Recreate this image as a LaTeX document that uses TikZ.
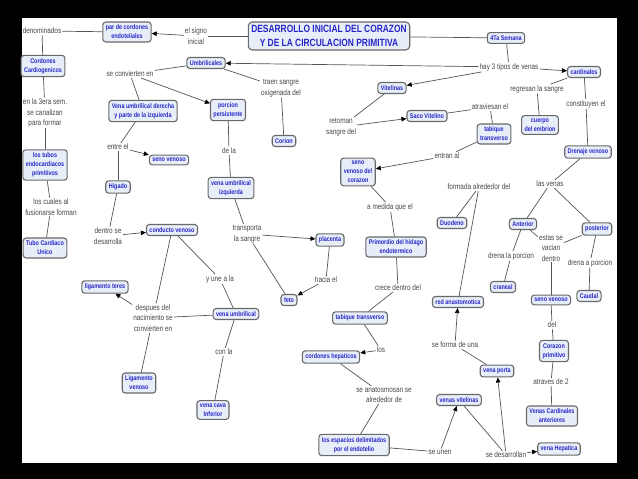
\documentclass[tikz,border=0pt]{standalone}
\usepackage{fontspec}
\setmainfont{Liberation Sans}[FakeStretch=0.8]
\usepackage{tikz}
\usetikzlibrary{arrows.meta, positioning}
\definecolor{cmapblue}{RGB}{38, 38, 200}
\definecolor{cmapfill}{RGB}{232, 238, 248}
\definecolor{cmapedge}{RGB}{105, 105, 105}
\definecolor{cmaplink}{RGB}{70, 70, 70}
\definecolor{cmapline}{RGB}{85, 85, 85}
\tikzset{
  cpt/.style={rectangle, rounded corners=3pt, draw=cmapedge, line width=1.1pt, fill=cmapfill, align=center, inner sep=3pt, text=cmapblue, font=\fontsize{6.8}{9}\selectfont\bfseries},
  titlebox/.style={rectangle, rounded corners=4pt, draw=cmapedge, line width=1.1pt, fill=cmapfill, align=center, inner sep=3pt, text=cmapblue, font=\fontsize{10.5}{14.5}\selectfont\bfseries},
  lnk/.style={align=center, inner sep=1pt, text=cmaplink, font=\fontsize{8}{10.5}\selectfont},
  con/.style={draw=cmapline, line width=0.7pt},
  arr/.style={draw=cmapline, line width=0.7pt, -{Triangle[length=5pt, width=4.5pt, color=black]}}
}

\begin{document}
\begin{tikzpicture}[x=1pt, y=-1pt]
    % frame
    \fill[black] (0,0) rectangle (638,479);
    \fill[white] (22,18) rectangle (617,463);
    \useasboundingbox (0,0) rectangle (638,479);

    % concepts
    \node[titlebox] (title) at (329,36) {DESARROLLO INICIAL DEL CORAZON\\Y DE LA CIRCULACION PRIMITIVA};
    \node[cpt] (par) at (127,32) {par de cordones\\endoteliales};
    \node[cpt] (cardio) at (43,66) {Cordones\\Cardiogenicos};
    \node[cpt] (tubos) at (45,165) {los tubos\\endocardiacos\\primitivos};
    \node[cpt] (unico) at (45,248) {Tubo Cardiaco\\Unico};
    \node[cpt] (umbri) at (206,63) {Umbrilicales};
    \node[cpt] (derecha) at (143,111) {Vena umbrilical derecha\\y parte de la izquierda};
    \node[cpt] (persist) at (228,110) {porcion\\persistente};
    \node[cpt] (corion) at (284,141) {Corion};
    \node[cpt] (senoA) at (169,160) {seno venoso};
    \node[cpt] (higado) at (118,187) {Higado};
    \node[cpt] (izq) at (231,188) {vena umbrilical\\izquierda};
    \node[cpt] (placenta) at (330,240) {placenta};
    \node[cpt] (feto) at (289,300) {feto};
    \node[cpt] (conducto) at (172,230) {conducto venoso};
    \node[cpt] (teres) at (105,287) {ligamento teres};
    \node[cpt] (ligven) at (139,383) {Ligamento\\venoso};
    \node[cpt] (umbvena) at (236,314) {vena umbrilical};
    \node[cpt] (cava) at (213,410) {vena cava\\Inferior};
    \node[cpt] (semana) at (506,38) {4Ta Semana};
    \node[cpt] (vitelinas) at (392,88) {Vitelinas};
    \node[cpt] (saco) at (427,116) {Saco Vitelino};
    \node[cpt] (tabA) at (494,134) {tabique\\transverso};
    \node[cpt] (senocor) at (358,172) {seno\\venoso del\\corazon};
    \node[cpt] (cardinales) at (584,72) {cardinales};
    \node[cpt] (cuerpo) at (540,125) {cuerpo\\del embrion};
    \node[cpt] (drenaje) at (588,152) {Drenaje venoso};
    \node[cpt] (duodeno) at (452,223) {Duodeno};
    \node[cpt] (primordio) at (396,247) {Primordio del hidago\\endotermico};
    \node[cpt] (tabB) at (360,318) {tabique transverso};
    \node[cpt] (hepcord) at (331,357) {cordones hepaticos};
    \node[cpt] (espacios) at (354,445) {los espacios delimitados\\por el endotelio};
    \node[cpt] (redanas) at (458,302) {red anastomotica};
    \node[cpt] (porta) at (497,371) {vena porta};
    \node[cpt] (vitvenas) at (459,400) {venas vitelinas};
    \node[cpt] (hepatica) at (559,449) {vena Hepatica};
    \node[cpt] (anterior) at (523,224) {Anterior};
    \node[cpt] (posterior) at (597,229) {posterior};
    \node[cpt] (craneal) at (503,287) {craneal};
    \node[cpt] (caudal) at (589,296) {Caudal};
    \node[cpt] (senoB) at (551,300) {seno venoso};
    \node[cpt] (corazon) at (554,351) {Corazon\\primitivo};
    \node[cpt] (cardant) at (552,416) {Venas Cardinales\\anteriores};

    % linking phrases
    \node[lnk] (signo) at (196,36) {el signo\\inicial};
    \node[lnk] (denom) at (42,31) {denominados};
    \node[lnk] (sem3) at (45,113) {en la 3era sem.\\se canalizan\\para formar};
    \node[lnk] (cuales) at (51,207) {los cuales al\\fusionarse forman};
    \node[lnk] (convierten) at (130,74) {se convierten en};
    \node[lnk] (traen) at (281,88) {traen sangre\\oxigenada del};
    \node[lnk] (entre) at (118,147) {entre el};
    \node[lnk] (dela) at (229,151) {de la};
    \node[lnk] (transporta) at (247,234) {transporta\\la sangre};
    \node[lnk] (hacia) at (326,280) {hacia el};
    \node[lnk] (dentro) at (108,236) {dentro se\\desarrolla};
    \node[lnk] (une) at (220,279) {y une a la};
    \node[lnk] (despues) at (153,318) {despues del\\nacimiento se\\convierten en};
    \node[lnk] (conla) at (224,352) {con la};
    \node[lnk] (tipos) at (509,67) {hay 3 tipos de venas};
    \node[lnk] (retoman) at (341,127) {retoman\\sangre del};
    \node[lnk] (atraviesan) at (490,107) {atraviesan el};
    \node[lnk] (entran) at (447,156) {entran al};
    \node[lnk] (medida) at (390,207) {a medida que el};
    \node[lnk] (crece) at (398,288) {crece dentro del};
    \node[lnk] (los) at (381,350) {los};
    \node[lnk] (anatos) at (384,395) {se anatosmosan se\\alrededor de};
    \node[lnk] (regresan) at (537,89) {regresan la sangre};
    \node[lnk] (constituyen) at (586,104) {constituyen el};
    \node[lnk] (lasvenas) at (550,184) {las venas};
    \node[lnk] (formada) at (479,187) {formada alrededor del};
    \node[lnk] (estas) at (551,248) {estas se\\vacian\\dentro};
    \node[lnk] (drenala) at (511,256) {drena la porcion};
    \node[lnk] (drenaa) at (590,263) {drena a porcion};
    \node[lnk] (del) at (552,325) {del};
    \node[lnk] (atraves) at (551,382) {atraves de 2};
    \node[lnk] (formauna) at (455,345) {se forma de una};
    \node[lnk] (unen) at (440,452) {se unen};
    \node[lnk] (desarrollan) at (506,455) {se desarrollan};

    % left column
    \draw[con] (title) -- (signo);
    \draw[arr] (signo) -- (par);
    \draw[con] (par) -- (denom);
    \draw[con] (denom) -- (cardio);
    \draw[con] (cardio) -- (sem3);
    \draw[con] (sem3) -- (tubos);
    \draw[con] (tubos) -- (cuales);
    \draw[con] (cuales) -- (unico);

    % umbilical veins
    \draw[con] (umbri) -- (convierten);
    \draw[arr] (convierten) -- (persist);
    \draw[con] (convierten) -- (derecha);
    \draw[con] (umbri) -- (traen);
    \draw[con] (traen) -- (corion);
    \draw[con] (derecha) -- (entre);
    \draw[arr] (entre) -- (senoA);
    \draw[con] (entre) -- (higado);
    \draw[con] (higado) -- (dentro);
    \draw[arr] (dentro) -- (conducto);
    \draw[con] (conducto) -- (une);
    \draw[con] (une) -- (umbvena);
    \draw[con] (conducto) -- (despues);
    \draw[arr] (despues) -- (teres);
    \draw[con] (umbvena) -- (despues);
    \draw[con] (despues) -- (ligven);
    \draw[con] (umbvena) -- (conla);
    \draw[con] (conla) -- (cava);
    \draw[con] (persist) -- (dela);
    \draw[con] (dela) -- (izq);
    \draw[con] (izq) -- (transporta);
    \draw[arr] (transporta) -- (placenta);
    \draw[con] (transporta) -- (feto);
    \draw[con] (placenta) -- (hacia);
    \draw[arr] (hacia) -- (feto);

    % vitelline veins
    \draw[con] (title) -- (semana);
    \draw[con] (semana) -- (tipos);
    \draw[arr] (tipos) -- (umbri);
    \draw[arr] (tipos) -- (vitelinas);
    \draw[arr] (tipos) -- (cardinales);
    \draw[con] (vitelinas) -- (retoman);
    \draw[arr] (retoman) -- (saco);
    \draw[con] (saco) -- (atraviesan);
    \draw[con] (atraviesan) -- (tabA);
    \draw[con] (tabA) -- (entran);
    \draw[arr] (entran) -- (senocor);
    \draw[con] (senocor) -- (medida);
    \draw[con] (medida) -- (primordio);
    \draw[con] (primordio) -- (crece);
    \draw[con] (crece) -- (tabB);
    \draw[con] (tabB) -- (los);
    \draw[arr] (los) -- (hepcord);
    \draw[con] (hepcord) -- (anatos);
    \draw[con] (anatos) -- (espacios);
    \draw[con] (espacios) -- (unen);
    \draw[arr] (unen) -- (vitvenas);
    \draw[con] (vitvenas) -- (desarrollan);
    \draw[arr] (desarrollan) -- (porta);
    \draw[arr] (desarrollan) -- (hepatica);
    \draw[con] (porta) -- (formauna);
    \draw[arr] (formauna) -- (redanas);
    \draw[con] (redanas) -- (formada);
    \draw[con] (formada) -- (duodeno);

    % cardinal veins
    \draw[con] (cardinales) -- (regresan);
    \draw[con] (regresan) -- (cuerpo);
    \draw[con] (cardinales) -- (constituyen);
    \draw[con] (constituyen) -- (drenaje);
    \draw[con] (drenaje) -- (lasvenas);
    \draw[con] (lasvenas) -- (anterior);
    \draw[con] (lasvenas) -- (posterior);
    \draw[con] (anterior) -- (estas);
    \draw[con] (posterior) -- (estas);
    \draw[con] (estas) -- (senoB);
    \draw[con] (anterior) -- (drenala);
    \draw[con] (drenala) -- (craneal);
    \draw[con] (posterior) -- (drenaa);
    \draw[con] (drenaa) -- (caudal);
    \draw[con] (senoB) -- (del);
    \draw[con] (del) -- (corazon);
    \draw[con] (corazon) -- (atraves);
    \draw[con] (atraves) -- (cardant);
\end{tikzpicture}
\end{document}
